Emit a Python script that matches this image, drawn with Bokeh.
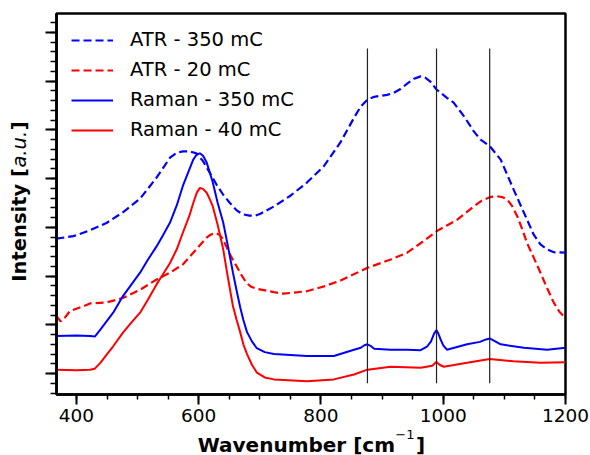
import math
from bokeh.plotting import figure
from bokeh.models import Range1d, SingleIntervalTicker, Label, CustomJSTickFormatter
from bokeh.embed import file_html
from bokeh.resources import INLINE

# ---------------- data ----------------
wn_atr350 = [367, 395, 422, 449, 476, 504, 531, 553, 564, 574, 585, 596, 607, 618, 629, 640, 651,
             662, 672, 683, 692, 701, 723, 750, 777, 805, 832, 843, 854, 865, 876, 887, 897, 908,
             919, 930, 941, 952, 963, 971, 979, 989, 1000, 1006, 1017, 1034, 1050, 1061, 1076,
             1094, 1115, 1137, 1148, 1159, 1170, 1181, 1200]
int_atr350 = [2.77, 2.82, 2.94, 3.09, 3.31, 3.59, 4.02, 4.43, 4.53, 4.56, 4.56, 4.52, 4.36, 4.12,
              3.88, 3.67, 3.50, 3.35, 3.27, 3.24, 3.24, 3.28, 3.43, 3.65, 3.92, 4.26, 4.75, 5.00,
              5.25, 5.48, 5.62, 5.68, 5.70, 5.72, 5.76, 5.84, 5.95, 6.05, 6.10, 6.07, 5.99, 5.83,
              5.72, 5.66, 5.56, 5.28, 4.97, 4.80, 4.67, 4.39, 3.78, 3.16, 2.85, 2.65, 2.55, 2.49,
              2.48]

wn_atr20 = [367, 374, 380, 389, 411, 422, 449, 476, 504, 531, 553, 574, 596, 613, 618, 623, 628,
            634, 640, 645, 653, 662, 670, 678, 686, 695, 723, 739, 777, 805, 832, 876, 914, 941,
            968, 989, 1006, 1023, 1037, 1050, 1063, 1076, 1088, 1097, 1105, 1113, 1121, 1129,
            1137, 1148, 1159, 1170, 1181, 1190, 1200]
int_atr20 = [1.18, 1.07, 1.13, 1.28, 1.38, 1.44, 1.46, 1.55, 1.72, 1.93, 2.07, 2.24, 2.55, 2.79,
             2.84, 2.87, 2.88, 2.85, 2.75, 2.61, 2.40, 2.20, 2.02, 1.86, 1.78, 1.74, 1.67, 1.64,
             1.69, 1.79, 1.91, 2.17, 2.34, 2.48, 2.72, 2.92, 3.04, 3.16, 3.30, 3.43, 3.55, 3.62,
             3.64, 3.62, 3.57, 3.43, 3.23, 2.97, 2.68, 2.38, 2.07, 1.75, 1.45, 1.27, 1.14]

wn_raman350 = [367, 400, 422, 430, 439, 460, 476, 490, 504, 517, 531, 542, 553, 564, 574, 585,
               591, 597, 602, 607, 613, 618, 623, 631, 640, 648, 656, 662, 668, 673, 679, 687,
               695, 708, 723, 777, 821, 854, 865, 871, 876, 881, 887, 914, 941, 963, 974, 980,
               985, 989, 992, 995, 1000, 1006, 1039, 1060, 1070, 1076, 1082, 1094, 1132, 1170,
               1200]
int_raman350 = [0.77, 0.78, 0.77, 0.76, 0.90, 1.25, 1.59, 1.83, 2.07, 2.34, 2.61, 2.85, 3.10,
                3.45, 3.85, 4.20, 4.39, 4.50, 4.52, 4.47, 4.33, 4.13, 3.92, 3.50, 3.10, 2.60,
                2.07, 1.70, 1.35, 1.10, 0.85, 0.66, 0.52, 0.44, 0.40, 0.36, 0.36, 0.49, 0.53,
                0.58, 0.60, 0.57, 0.51, 0.49, 0.49, 0.48, 0.56, 0.66, 0.82, 0.89, 0.82, 0.72,
                0.58, 0.49, 0.60, 0.65, 0.70, 0.72, 0.68, 0.60, 0.53, 0.49, 0.53]

wn_raman40 = [367, 400, 422, 430, 439, 450, 460, 476, 490, 504, 517, 531, 542, 553, 564, 574,
              585, 591, 597, 602, 607, 613, 618, 623, 631, 640, 648, 656, 662, 668, 673, 679,
              687, 695, 708, 723, 777, 821, 854, 876, 914, 963, 982, 989, 994, 1001, 1039, 1076,
              1115, 1159, 1200]
int_raman40 = [0.08, 0.07, 0.08, 0.10, 0.22, 0.40, 0.56, 0.84, 1.05, 1.25, 1.52, 1.83, 2.05,
               2.27, 2.55, 2.89, 3.25, 3.50, 3.72, 3.81, 3.79, 3.71, 3.58, 3.43, 3.05, 2.55,
               1.95, 1.38, 1.10, 0.84, 0.60, 0.40, 0.18, 0.02, -0.08, -0.12, -0.16, -0.12, -0.02,
               0.08, 0.14, 0.12, 0.16, 0.24, 0.18, 0.14, 0.22, 0.30, 0.25, 0.22, 0.23]

series_labels = ["ATR - 350 mC", "ATR - 20 mC", "Raman - 350 mC", "Raman - 40 mC"]

vline_positions = [876, 989, 1076]
vline_low = -0.2
vline_high = 6.67

X_START, X_END = 367.3, 1200
Y_START, Y_END = -0.43, 7.39

W, H = 590, 455
FRAME_L, FRAME_R, FRAME_T, FRAME_B = 56, 565, 13, 394

# ---------------- figure ----------------
p = figure(width=W, height=H, output_backend="svg", toolbar_location=None,
           x_range=Range1d(X_START, X_END), y_range=Range1d(Y_START, Y_END),
           min_border_left=FRAME_L, min_border_right=W - FRAME_R,
           min_border_top=FRAME_T, min_border_bottom=H - FRAME_B)
p.grid.visible = False
p.background_fill_color = "white"
p.border_fill_color = "white"
p.outline_line_color = "black"
p.outline_line_width = 2.5

p.xaxis.ticker = SingleIntervalTicker(interval=200, num_minor_ticks=4)
p.yaxis.ticker = SingleIntervalTicker(interval=1, num_minor_ticks=5)
p.yaxis.formatter = CustomJSTickFormatter(code="return '';")

for ax in (p.xaxis[0], p.yaxis[0]):
    ax.axis_line_width = 2.5
    ax.axis_line_color = "black"
    ax.major_tick_in = 0
    ax.minor_tick_in = 0
    ax.major_tick_line_width = 2
    ax.minor_tick_line_width = 1.5
    ax.major_tick_line_color = "black"
    ax.minor_tick_line_color = "black"
    ax.major_label_text_font = "DejaVu Sans"
    ax.major_label_text_font_size = "18.5px"
    ax.major_label_text_color = "black"
p.xaxis.major_tick_out = 10
p.xaxis.minor_tick_out = 5
p.yaxis.major_tick_out = 11
p.yaxis.minor_tick_out = 6
p.xaxis.major_label_standoff = 4
p.yaxis.major_label_standoff = 0

p.line(wn_atr350, int_atr350, line_color="#0000ff", line_width=2.2, line_dash="8 4",
       legend_label=series_labels[0])
p.line(wn_atr20, int_atr20, line_color="#ff0000", line_width=2.2, line_dash="8 4",
       legend_label=series_labels[1])
p.line(wn_raman350, int_raman350, line_color="#0000ff", line_width=2,
       legend_label=series_labels[2])
p.line(wn_raman40, int_raman40, line_color="#ff0000", line_width=2,
       legend_label=series_labels[3])

p.segment(x0=vline_positions, x1=vline_positions,
          y0=[vline_low] * len(vline_positions), y1=[vline_high] * len(vline_positions),
          line_color="#222222", line_width=1.2)

lg = p.legend[0]
lg.location = "top_left"
lg.border_line_color = None
lg.background_fill_alpha = 0
lg.label_text_font = "DejaVu Sans"
lg.label_text_font_size = "19.5px"
lg.label_text_color = "black"
lg.glyph_width = 42
lg.glyph_height = 20
lg.label_height = 20
lg.label_standoff = 17
lg.spacing = 7
lg.padding = 10
lg.margin = 15

# ---------------- axis titles (canvas units, placed in side panels so they are not clipped) ----
BOLD = {'W': 1.030, 'a': 0.675, 'v': 0.652, 'e': 0.678, 'n': 0.712, 'u': 0.712, 'm': 1.042,
        'b': 0.716, 'r': 0.493, ' ': 0.348, '[': 0.457, ']': 0.457, 'I': 0.372, 't': 0.478,
        's': 0.595, 'i': 0.343, 'y': 0.652, 'c': 0.593, '\u00a0': 0.348, '\u2009': 0.2}
ITAL = {'c': 0.550, 'm': 0.974, 'a': 0.613, 'u': 0.634, '.': 0.318}
REG = {'\u2212': 0.838, '1': 0.636}


def width(txt, table, size):
    return sum(table.get(ch, 0.6) for ch in txt) * size


def label(text, x, y, size, style, angle=0.0):
    return Label(x=x, y=y, x_units="canvas", y_units="canvas", text=text, angle=angle,
                 text_font="DejaVu Sans", text_font_size=f"{size}px", text_font_style=style,
                 text_align="left", text_baseline="alphabetic", text_color="black")


FX = 20.0      # x title size
FSUP = 13.0    # superscript size
FY = 19.5      # y title size

# x title: bold "Wavenumber [cm   ]" with the superscript in the gap
x_head = "Wavenumber [cm"
x_gap = "\u00a0" * 3
x_text = x_head + x_gap + "]"
x_total = width(x_text, BOLD, FX)
x_left = (FRAME_L + FRAME_R) / 2 - x_total / 2
p.add_layout(label(x_text, x_left, 444, FX, "bold"), "below")
p.add_layout(label("\u22121", x_left + width(x_head, BOLD, FX) + 1, 434, FSUP, "normal"), "above")

# y title: bold "Intensity [      ]" with italic "a.u." in the gap
y_head = "Intensity ["
y_gap = "\u00a0" * 5 + "\u2009"
y_text = y_head + y_gap + "]"
y_total = width(y_text, BOLD, FY)
y_bottom = (FRAME_T + FRAME_B) / 2 - 2.5 + y_total / 2
base_x = 19
p.add_layout(label(y_text, base_x, y_bottom, FY, "bold", math.pi / 2), "left")
au_start = y_bottom - width(y_head, BOLD, FY) - 0.5
p.add_layout(label("a.u.", base_x, au_start, FY, "italic", math.pi / 2), "right")

open("out.html", "w").write(file_html(p, INLINE))
